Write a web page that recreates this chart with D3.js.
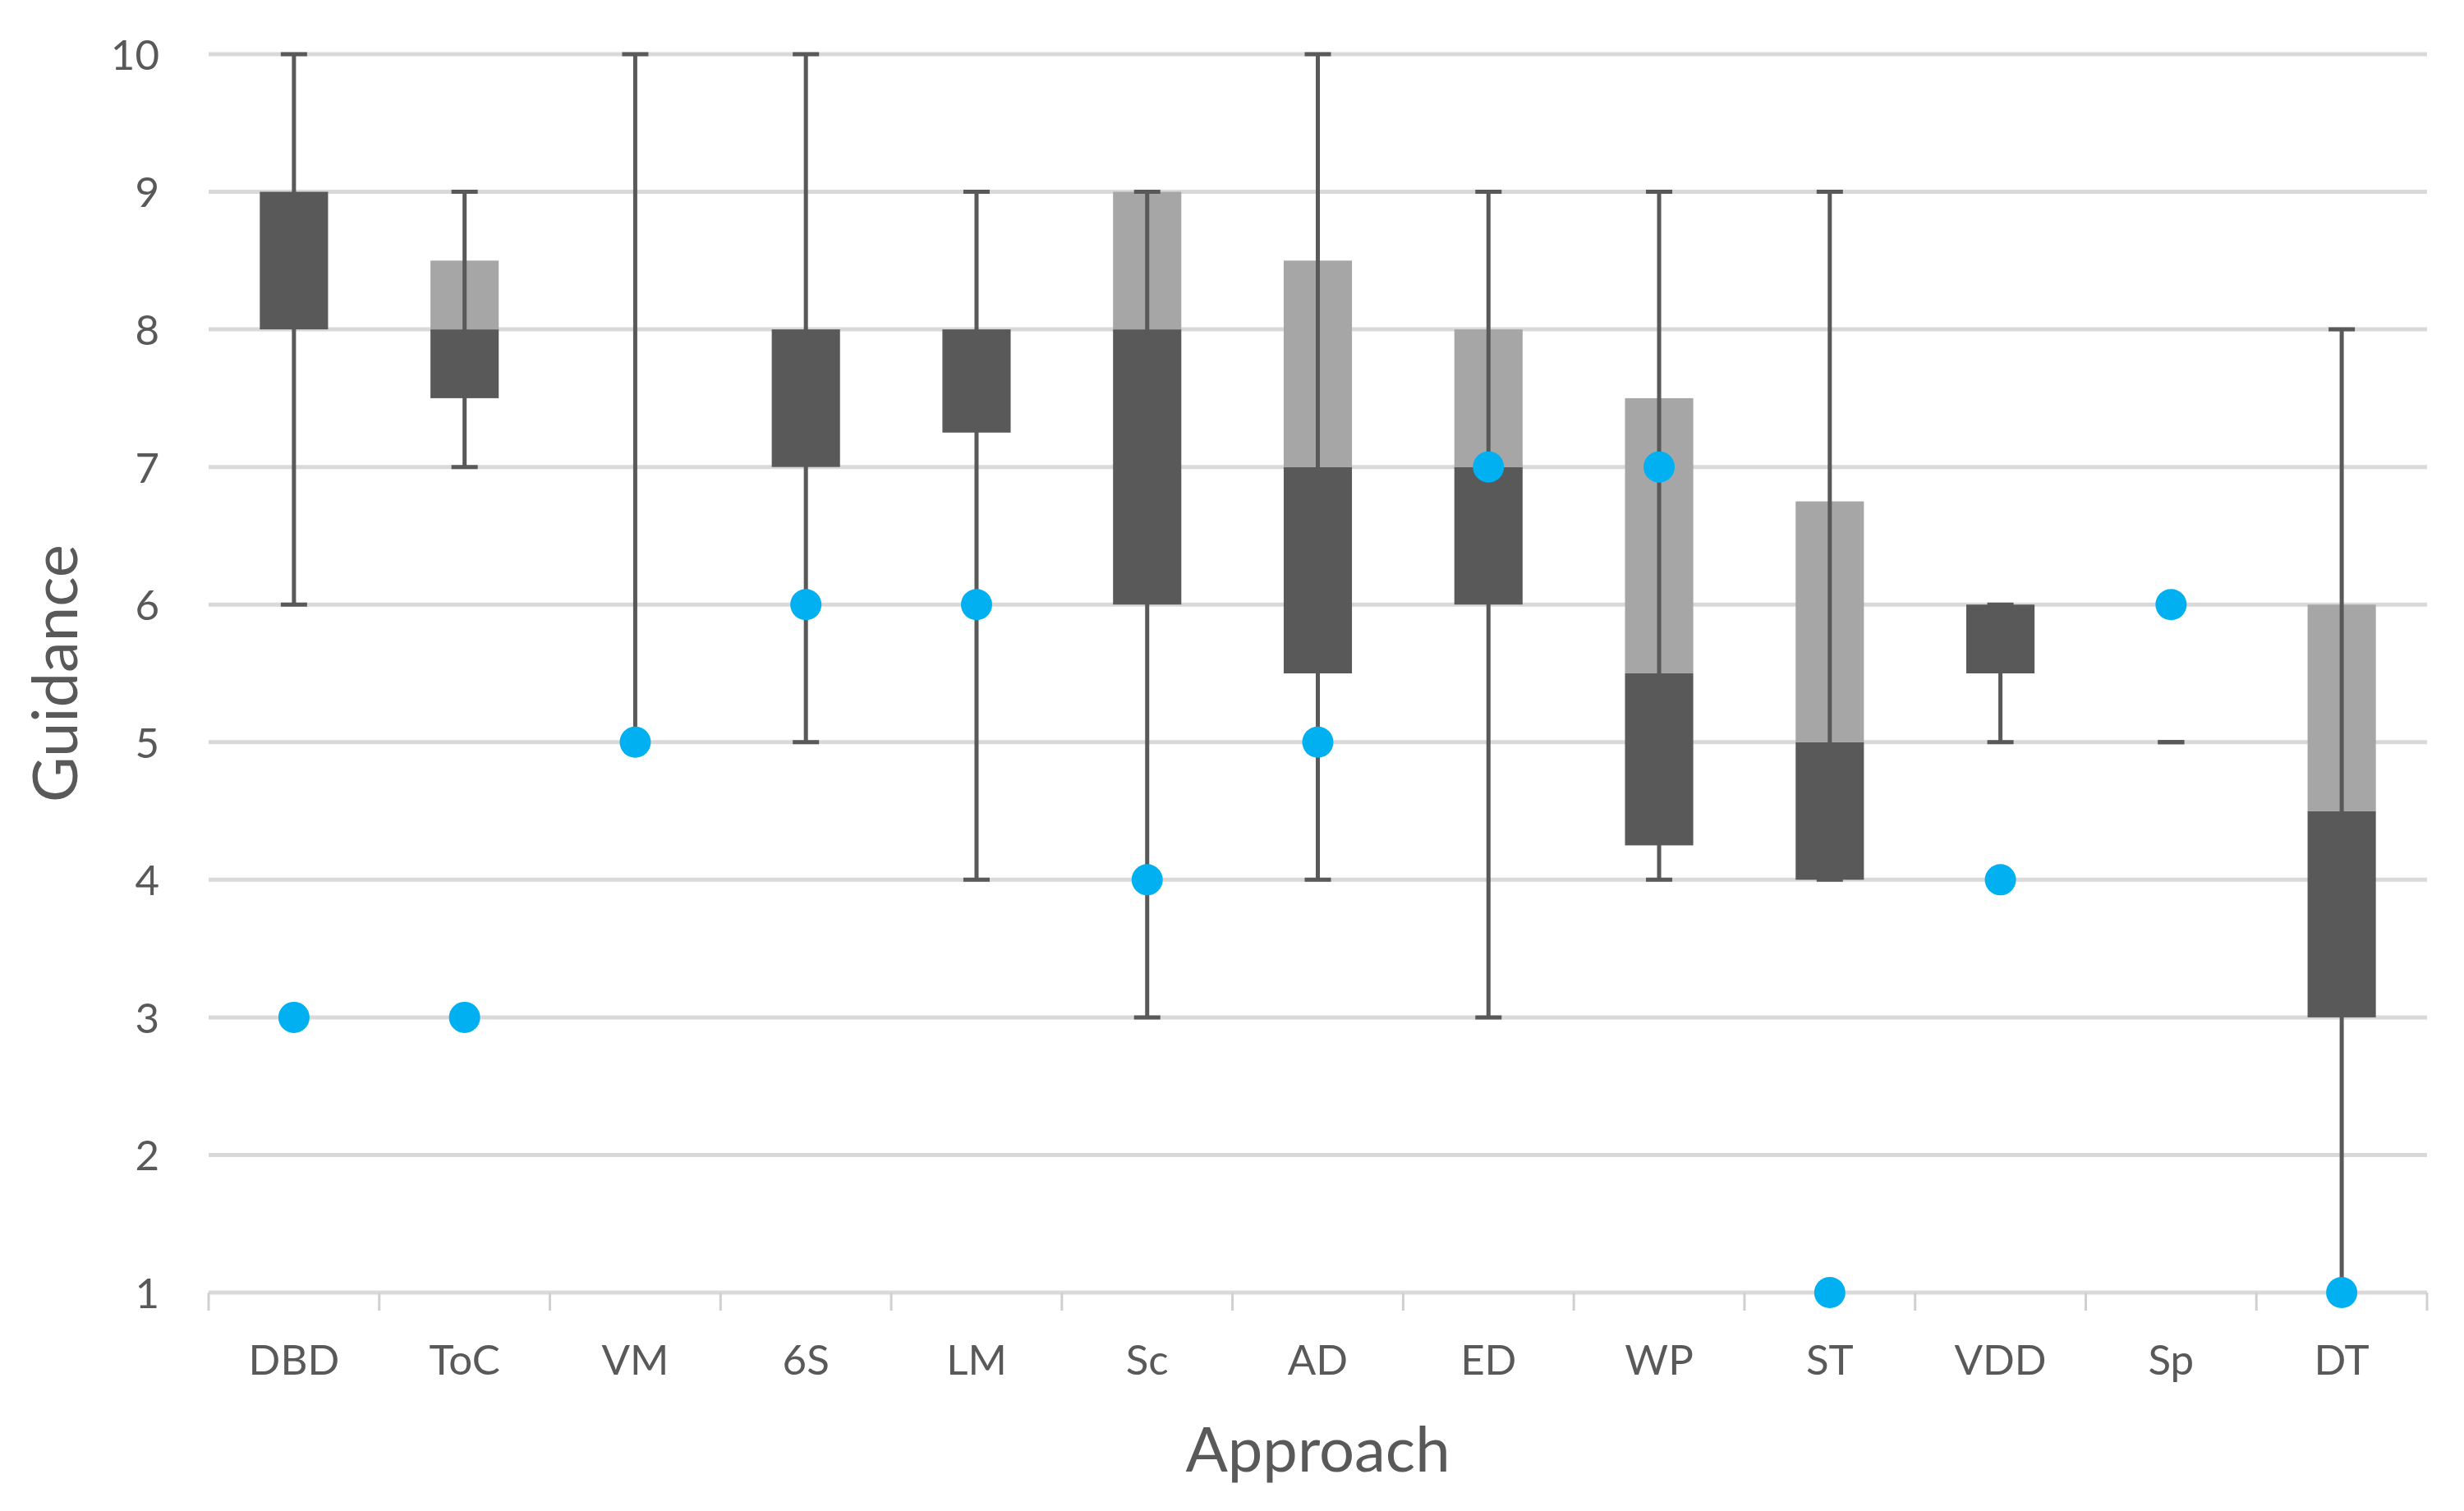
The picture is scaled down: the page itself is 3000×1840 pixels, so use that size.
<!DOCTYPE html>
<html lang="en">
<head>
<meta charset="UTF-8">
<title>Guidance by approach</title>
<style>
  body { margin: 0; background: #fff; }
  text { font-family: Lato, "Open Sans", sans-serif; fill: #595959; }
</style>
</head>
<body>
<div id="chart"></div>
<script src="https://d3js.org/d3.v7.min.js"></script>
<script>
// data
var categories = ["DBD", "ToC", "VM", "6S", "LM", "Sc", "AD", "ED", "WP", "ST", "VDD", "Sp", "DT"];
var minVals    = [6,   7,   5,  5,  4,    3, 4,   3, 4,    4,    5,   5, 1];
var q1Vals     = [8,   7.5, 10, 7,  7.25, 6, 5.5, 6, 4.25, 4,    5.5, 5, 3];
var medianVals = [9,   8,   10, 8,  8,    8, 7,   7, 5.5,  5,    6,   5, 4.5];
var q3Vals     = [9,   8.5, 10, 8,  8,    9, 8.5, 8, 7.5,  6.75, 6,   5, 6];
var maxVals    = [10,  9,   10, 10, 9,    9, 10,  9, 9,    9,    6,   5, 8];
var dotVals    = [3,   3,   5,  6,  6,    4, 5,   7, 7,    1,    4,   6, 1];
var yTicks = [1, 2, 3, 4, 5, 6, 7, 8, 9, 10];

var W = 3000, H = 1840;
var plotLeft = 254, plotRight = 2955, plotTop = 66, plotBottom = 1574;

var svg = d3.select("#chart").append("svg")
    .attr("width", W)
    .attr("height", H);

var x = d3.scaleBand()
    .domain(categories)
    .range([plotLeft, plotRight])
    .padding(0);

var y = d3.scaleLinear()
    .domain([1, 10])
    .range([plotBottom, plotTop]);

var data = categories.map(function (c, i) {
    return { cat: c, min: minVals[i], q1: q1Vals[i], med: medianVals[i], q3: q3Vals[i], max: maxVals[i], dot: dotVals[i] };
});

// gridlines
svg.append("g")
    .selectAll("line")
    .data(yTicks)
    .enter()
    .append("line")
    .attr("x1", plotLeft)
    .attr("x2", plotRight)
    .attr("y1", function (d) { return y(d); })
    .attr("y2", function (d) { return y(d); })
    .attr("stroke", "#d9d9d9")
    .attr("stroke-width", 5);

// y axis labels
var yAxis = svg.append("g")
    .attr("transform", "translate(" + (plotLeft - 60) + ",0)")
    .call(d3.axisLeft(y).tickValues(yTicks).tickSize(0).tickPadding(0));
yAxis.select(".domain").remove();
yAxis.selectAll("text")
    .style("font-size", "51px")
    .attr("fill", "#595959")
    .attr("dy", "0.36em");

// x axis: labels centred in each band
var xAxis = svg.append("g")
    .attr("transform", "translate(0," + plotBottom + ")")
    .call(d3.axisBottom(x).tickSize(0).tickPadding(64));
xAxis.select(".domain").remove();
xAxis.selectAll("text")
    .style("font-size", "51px")
    .attr("fill", "#595959");

// tick marks between categories
var boundaries = categories.map(function (c) { return x(c); }).concat([plotRight]);
svg.append("g")
    .selectAll("line")
    .data(boundaries)
    .enter()
    .append("line")
    .attr("x1", function (d) { return d; })
    .attr("x2", function (d) { return d; })
    .attr("y1", plotBottom)
    .attr("y2", plotBottom + 22)
    .attr("stroke", "#d0d0d0")
    .attr("stroke-width", 3);

var boxW = x.bandwidth() * 0.4;
var capW = 32;
function cx(d) { return x(d.cat) + x.bandwidth() / 2; }

// lower box: q1 to median
svg.append("g")
    .selectAll("rect")
    .data(data)
    .enter()
    .append("rect")
    .attr("x", function (d) { return cx(d) - boxW / 2; })
    .attr("width", boxW)
    .attr("y", function (d) { return y(d.med); })
    .attr("height", function (d) { return y(d.q1) - y(d.med); })
    .attr("fill", "#595959");

// upper box: median to q3
svg.append("g")
    .selectAll("rect")
    .data(data)
    .enter()
    .append("rect")
    .attr("x", function (d) { return cx(d) - boxW / 2; })
    .attr("width", boxW)
    .attr("y", function (d) { return y(d.q3); })
    .attr("height", function (d) { return y(d.med) - y(d.q3); })
    .attr("fill", "#a6a6a6");

// whiskers
var wg = svg.append("g").attr("stroke", "#595959");
wg.selectAll(".stem")
    .data(data)
    .enter()
    .append("line")
    .attr("class", "stem")
    .attr("x1", cx)
    .attr("x2", cx)
    .attr("y1", function (d) { return y(d.min); })
    .attr("y2", function (d) { return y(d.max); })
    .attr("stroke-width", 5);

["min", "max"].forEach(function (k) {
    wg.selectAll(".cap-" + k)
        .data(data)
        .enter()
        .append("line")
        .attr("class", "cap-" + k)
        .attr("x1", function (d) { return cx(d) - capW / 2; })
        .attr("x2", function (d) { return cx(d) + capW / 2; })
        .attr("y1", function (d) { return y(d[k]); })
        .attr("y2", function (d) { return y(d[k]); })
        .attr("stroke-width", 5);
});

// blue markers
svg.append("g")
    .selectAll("circle")
    .data(data)
    .enter()
    .append("circle")
    .attr("cx", cx)
    .attr("cy", function (d) { return y(d.dot); })
    .attr("r", 19)
    .attr("fill", "#00b0f0");

// axis titles
svg.append("text")
    .attr("x", (plotLeft + plotRight) / 2)
    .attr("y", 1792)
    .attr("text-anchor", "middle")
    .style("font-size", "76px")
    .text("Approach");

svg.append("text")
    .attr("transform", "translate(94," + ((plotTop + plotBottom) / 2) + ") rotate(-90)")
    .attr("text-anchor", "middle")
    .style("font-size", "76px")
    .text("Guidance");
</script>
</body>
</html>
